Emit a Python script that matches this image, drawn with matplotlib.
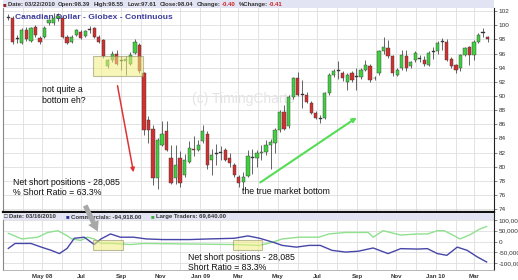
import matplotlib
matplotlib.use('Agg')
import matplotlib.pyplot as plt
import matplotlib.dates as mdates
import numpy as np
import pandas as pd
from matplotlib.patches import Rectangle, FancyArrowPatch

# ---------------- data (weekly candles, Canadian Dollar futures) ----------------
opens = [101.1, 101.1, 98.2, 97.5, 99.4, 97.8, 99.7, 98.2, 98.4, 100.3,
         100.3, 101.1, 101.0, 98.4, 97.7, 98.7, 99.1, 98.5, 99.4, 99.6,
         98.4, 97.9, 94.3, 95.1, 96.0, 95.0, 95.0, 94.6, 96.1, 97.2,
         93.2, 86.6, 85.4, 78.4, 83.1, 85.0, 81.2, 78.4, 81.2, 78.8,
         80.7, 82.5, 82.4, 83.6, 84.7, 81.0, 81.8, 82.0, 82.4, 81.2,
         80.3, 78.6, 77.9, 78.7, 81.4, 81.2, 81.9, 82.1, 83.1, 83.3,
         85.2, 87.8, 85.7, 89.9, 92.5, 90.2, 90.2, 89.0, 87.6, 86.9,
         86.9, 90.4, 93.0, 93.6, 93.2, 92.0, 93.2, 92.7, 92.7, 93.7,
         94.2, 92.5, 93.2, 96.3, 96.8, 95.6, 93.0, 93.9, 95.6, 94.2,
         95.1, 95.2, 95.1, 94.4, 96.3, 96.3, 97.6, 97.7, 95.3, 94.4,
         93.9, 95.8, 96.9, 95.8, 97.7, 99.0, 98.39]
highs = [101.6, 101.3, 98.7, 99.6, 99.7, 99.8, 100.1, 98.5, 99.9, 100.9,
         101.7, 101.8, 101.2, 98.6, 98.6, 99.5, 99.4, 99.4, 99.9, 99.8,
         98.6, 98.1, 95.3, 96.4, 96.5, 95.6, 95.6, 96.2, 98.0, 97.5,
         93.4, 87.2, 85.9, 84.0, 86.4, 86.4, 83.1, 83.1, 82.2, 81.8,
         83.6, 84.3, 83.8, 85.9, 85.0, 82.5, 83.2, 83.0, 82.7, 81.9,
         80.6, 78.8, 79.3, 82.3, 82.5, 82.3, 83.1, 83.8, 83.9, 85.5,
         88.0, 88.7, 90.1, 92.7, 93.4, 92.3, 90.5, 89.3, 87.9, 87.3,
         90.6, 93.2, 93.8, 94.9, 93.5, 93.3, 93.5, 93.9, 93.9, 95.1,
         94.5, 92.8, 96.5, 98.4, 97.9, 95.8, 93.9, 96.5, 96.5, 95.0,
         96.3, 95.8, 95.6, 96.3, 97.0, 97.8, 98.2, 98.0, 95.5, 94.6,
         96.0, 97.0, 97.1, 97.9, 98.9, 99.6, 98.55]
lows = [100.8, 97.4, 97.5, 97.3, 97.8, 97.6, 98.4, 97.4, 98.2, 100.0,
        100.1, 100.6, 98.2, 97.3, 97.5, 98.5, 98.0, 98.3, 98.9, 98.2,
        97.5, 95.4, 93.9, 94.8, 94.4, 93.7, 93.0, 94.4, 95.9, 93.3,
        84.5, 83.4, 77.4, 76.9, 82.9, 82.2, 77.5, 77.6, 77.1, 78.6,
        80.5, 81.5, 82.2, 83.4, 79.7, 78.8, 80.2, 80.9, 80.8, 80.0,
        78.6, 77.2, 76.7, 78.5, 79.0, 80.0, 80.9, 81.6, 79.7, 82.0,
        84.9, 85.2, 85.5, 89.6, 90.0, 88.3, 89.0, 87.4, 86.7, 86.2,
        86.7, 90.2, 92.7, 92.4, 92.1, 90.9, 92.0, 90.9, 92.4, 93.5,
        92.0, 92.3, 93.0, 96.0, 95.4, 92.8, 92.8, 93.7, 93.5, 93.9,
        94.8, 94.8, 94.2, 94.2, 95.2, 96.0, 96.5, 94.9, 94.0, 93.2,
        93.6, 95.6, 94.4, 95.1, 97.5, 98.4, 97.61]
closes = [101.1, 97.6, 98.1, 99.4, 98.0, 99.6, 98.6, 97.7, 99.6, 100.8,
          101.1, 101.3, 98.4, 97.5, 98.4, 99.3, 98.2, 99.2, 99.5, 98.4,
          97.7, 95.6, 95.1, 95.9, 94.6, 95.0, 95.2, 95.8, 97.7, 93.5,
          85.2, 85.2, 78.4, 83.8, 84.7, 82.4, 77.7, 80.3, 77.7, 81.0,
          82.6, 82.3, 83.1, 85.0, 80.3, 81.7, 81.9, 82.0, 81.0, 80.5,
          78.8, 77.7, 78.6, 81.5, 81.3, 81.9, 82.1, 83.1, 83.5, 85.2,
          87.8, 85.4, 89.9, 92.5, 90.2, 90.3, 89.2, 87.6, 86.9, 86.8,
          90.4, 93.0, 93.5, 93.5, 92.5, 93.0, 92.3, 92.8, 93.7, 94.4,
          92.3, 92.5, 96.3, 96.9, 95.6, 93.2, 93.7, 95.8, 93.9, 94.8,
          96.1, 95.3, 94.6, 96.1, 96.2, 97.5, 97.6, 95.1, 94.2, 93.7,
          95.8, 96.8, 95.8, 97.7, 98.7, 98.9, 98.04]
last_date = '2010-03-22'

# COT positions (week index from first candle, value in contracts)
comm_weeks = [0, 1.5, 5, 7.3, 9.5, 11.3, 13, 14.6, 16.8, 19, 20.5, 22.6, 24.8, 27.7,
              30.5, 34.2, 40, 44.5, 50, 53, 55.6, 58.5, 60.6, 63.7, 66.5, 69, 71.6,
              74.6, 77.4, 80.7, 84, 86.8, 90.5, 92.7, 94.9, 97, 99.3, 101.5, 103.7, 105.8]
comm_vals = [-32000, -9000, -9000, -26000, -41000, -56000, -32000, 15000, 20000, -14000,
             12000, 35000, 20000, 20000, 12000, 9000, 9000, 12000, 15000, 26000,
             15000, -3000, -18000, -26000, -18000, -18000, -41000, -49000, -45000, -30000,
             -56000, -33000, -35000, -33000, -56000, -64000, -26000, -41000, -71000, -94918]
large_weeks = [0, 3, 6.5, 8.7, 11, 13, 14, 16, 17.5, 19, 20.5, 23, 27, 30, 50, 55.6,
               58.5, 60.6, 64.3, 68.7, 70.9, 74.6, 79.6, 80.7, 82.9, 86.8, 90.5, 92.7,
               94.9, 96.4, 98.6, 99.9, 102, 104.3, 105.8]
large_vals = [38000, 12000, 20000, 42000, 50000, 27000, 12000, 5000, 20000, 12000,
              -9000, -9000, -14000, -9000, -14000, -18000, -3000, 12000, 20000, 20000,
              35000, 42000, 42000, 20000, 50000, 30000, 35000, 35000, 50000, 50000,
              27000, 12000, 30000, 58000, 69640]

price_ticks = list(range(74, 103, 2))
cot_ticks = [100000, 50000, 0, -50000, -100000]
cot_labels = ['100,000', '50,000', '0', '-50,000', '-100,000']

# ---------------- figure ----------------
W, H = 518, 280
fig = plt.figure(figsize=(W / 100, H / 100), dpi=100)
FONT = 'Liberation Sans'

def fx(x):
    return x / W

def fy(y):
    return 1 - y / H

n = len(opens)
dates = pd.date_range(end=last_date, periods=n, freq='7D')
xd = mdates.date2num(dates)
x0 = xd[0]

L, R = 2.5, 494
ax = fig.add_axes([fx(L), fy(212), (R - L) / W, (212 - 8) / H])
xlim = (xd[0] - 1.5, xd[-1] + 9)
ax.set_xlim(*xlim)
ax.set_ylim(73.6, 102.45)

months = pd.date_range('2008-03-01', '2010-04-01', freq='MS')
mnum = mdates.date2num(months)
ax.set_xticks(mnum)
ax.set_xticklabels([])
ax.tick_params(axis='x', length=0)
ax.set_yticks(price_ticks)
ax.yaxis.tick_right()
ax.tick_params(axis='y', labelsize=4.6, length=2, pad=1.5, labelcolor='#333333', color='#555555', width=0.5)
for t in ax.get_yticklabels():
    t.set_fontfamily(FONT)
ax.grid(True, color='#dedede', lw=0.6, zorder=0)
ax.set_axisbelow(True)
ax.spines['top'].set_visible(False)
ax.spines['left'].set_color('#888888')
ax.spines['left'].set_lw(0.8)
ax.spines['right'].set_color('#222222')
ax.spines['right'].set_lw(0.8)
ax.spines['bottom'].set_color('#111111')
ax.spines['bottom'].set_lw(1.6)

# title and watermark (under candles)
ax.text(0.026, 0.955, 'Canadian Dollar - Globex - Continuous', transform=ax.transAxes,
        fontsize=6.1, fontweight='bold', color='#3c3c9c', family=FONT, va='center', ha='left', zorder=1)
ax.text(0.49, 0.555, '(c) TimingCharts', transform=ax.transAxes, fontsize=10, color='#e4e4e4',
        family=FONT, va='center', ha='center', zorder=1)

o = np.array(opens); c = np.array(closes); hi = np.array(highs); lo = np.array(lows)
ax.vlines(xd, lo, hi, color='#3a3a3a', lw=0.55, zorder=2)
diff = c - o
cols = np.where(np.abs(diff) < 0.15, '#333333', np.where(diff > 0, '#3fcf3f', '#d03030'))
bottoms = np.minimum(o, c)
heights = np.maximum(np.abs(diff), 0.12)
ax.bar(xd, heights, bottom=bottoms, width=5.0, color=cols, edgecolor='#3a3a3a', lw=0.3, zorder=3)

# ---------------- header bar ----------------
axh = fig.add_axes([fx(L), fy(8), (R - L) / W, 8 / H])
axh.set_facecolor('#e2e3f3')
axh.set_xticks([]); axh.set_yticks([])
for s in axh.spines.values():
    s.set_visible(False)

renderer = fig.canvas.get_renderer()

def text_row(items, x_start, y, size):
    xp = x_start
    for txt, col, gap in items:
        t = fig.text(fx(xp), fy(y), txt, fontsize=size, fontweight='bold', color=col,
                     family=[FONT, 'DejaVu Sans'], va='center', ha='left')
        bb = t.get_window_extent(renderer=renderer)
        xp = xp + bb.width + gap

hdr = [('\u25a0', '#992222', 1.5), ('Date: 03/22/2010', '#333333', 3.5), ('Open:98.39', '#333333', 3.5),
       ('High:98.55', '#333333', 3.5), ('Low:97.61', '#333333', 3.5), ('Close:98.04', '#333333', 3.5),
       ('Change:', '#333333', 0.8), ('-0.40', '#cc2222', 3.5), ('%Change:', '#333333', 0.8),
       ('-0.41', '#cc2222', 3)]
text_row(hdr, 2.5, 4.3, 4.3)

# ---------------- bottom panel ----------------
axbh = fig.add_axes([fx(L), fy(219.5), (R - L) / W, 6.5 / H])
axbh.set_facecolor('#e2e3f3')
axbh.set_xticks([]); axbh.set_yticks([])
for s in axbh.spines.values():
    s.set_visible(False)
axbh.spines['right'].set_visible(True)
axbh.spines['right'].set_color('#222222')

ax2 = fig.add_axes([fx(L), fy(270), (R - L) / W, (270 - 219.5) / H])
ax2.set_xlim(*xlim)
ax2.set_ylim(-132000, 102000)
ax2.set_yticks(cot_ticks)
ax2.set_yticklabels(cot_labels)
ax2.yaxis.tick_right()
ax2.tick_params(axis='y', labelsize=4.6, length=2, pad=1.5, labelcolor='#333333', color='#555555', width=0.5)
for t in ax2.get_yticklabels():
    t.set_fontfamily(FONT)
ax2.set_xticks(mnum)
lab = []
for d in months:
    if d.month % 2 == 1 and d >= pd.Timestamp('2008-05-01'):
        if d == pd.Timestamp('2008-05-01') or d.month == 1:
            lab.append(d.strftime('%b %y'))
        else:
            lab.append(d.strftime('%b'))
    else:
        lab.append('')
ax2.set_xticklabels(lab)
ax2.tick_params(axis='x', length=0, labelsize=4.4, pad=3, labelcolor='#333333')
for t in ax2.get_xticklabels():
    t.set_fontweight('bold'); t.set_fontfamily(FONT)
ax2.grid(True, color='#dedede', lw=0.6)
ax2.set_axisbelow(True)
ax2.spines['top'].set_visible(False)
ax2.spines['left'].set_color('#888888')
ax2.spines['left'].set_lw(0.8)
ax2.spines['right'].set_color('#222222')
ax2.spines['right'].set_lw(0.8)
ax2.spines['bottom'].set_color('#aaaaaa')
ax2.spines['bottom'].set_lw(0.6)

cw = x0 + 7 * np.array(comm_weeks)
lw_ = x0 + 7 * np.array(large_weeks)
ax2.plot(lw_, large_vals, color='#8fe08f', lw=1.0, zorder=3)
ax2.plot(cw, comm_vals, color='#4646a8', lw=1.0, zorder=4)

bh = [('\u25a1', '#333333', 1.5), ('Date: 03/16/2010', '#333333', 10), ('\u25a0', '#303090', 1.5),
      ('Commercials: -94,918.00', '#333333', 10), ('\u25a0', '#44aa44', 1.5),
      ('Large Traders: 69,640.00', '#333333', 3)]
text_row(bh, 3.5, 216.3, 4.3)

# ---------------- annotations ----------------
def box(x1, y1, x2, y2):
    fig.add_artist(Rectangle((fx(x1), fy(y2)), (x2 - x1) / W, (y2 - y1) / H, transform=fig.transFigure,
                             facecolor='#f3ee80', alpha=0.55, edgecolor='#8a8a60', lw=0.8, zorder=5))

box(93, 56, 143, 76)
box(93, 240, 123, 250)
box(233, 240, 262, 250)

def arrow(p1, p2, color, lw, style):
    fig.add_artist(FancyArrowPatch((fx(p1[0]), fy(p1[1])), (fx(p2[0]), fy(p2[1])),
                                   transform=fig.transFigure, arrowstyle=style, color=color, lw=lw,
                                   mutation_scale=6, zorder=6))

arrow((117, 83), (134, 175), '#dd3535', 1.1, '-|>')
arrow((258, 184), (359, 116), '#55dd55', 1.5, '-|>')
arrow((84, 203), (99, 234), '#a8a8a8', 0, 'simple,head_width=1.4,head_length=1.2,tail_width=0.6')

tkw = dict(fontsize=6.3, color='#111111', family=FONT, va='center', ha='left', linespacing=1.25)
fig.text(fx(42), fy(95), 'not quite a\nbottom eh?', **tkw)
fig.text(fx(13), fy(187.5), 'Net short positions - 28,085\n% Short Ratio = 63.3%', **tkw)
fig.text(fx(242), fy(191.5), 'the true market bottom', **tkw)
fig.text(fx(188), fy(262.5), 'Net short positions - 28,085\nShort Ratio = 83.3%', zorder=7, **tkw)

fig.savefig('out.png', dpi=100)
